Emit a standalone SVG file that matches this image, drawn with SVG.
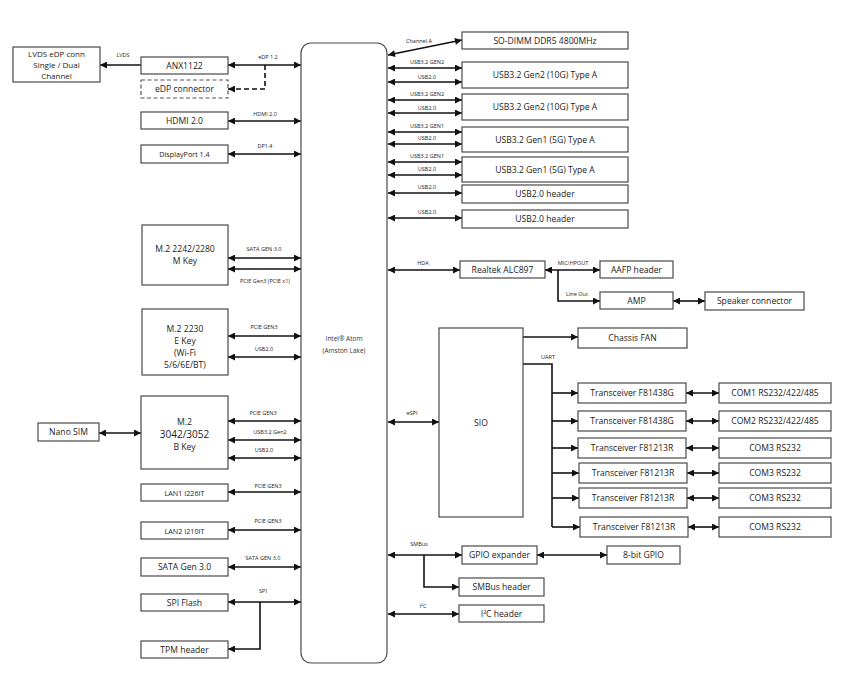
<svg xmlns="http://www.w3.org/2000/svg" width="850" height="680" viewBox="0 0 850 680">
<defs>
<style>
.b{fill:#fff;stroke:#4a4a4a;stroke-width:1.2}
.d{fill:#fff;stroke:#555;stroke-width:1.2;stroke-dasharray:4 2.5}
.t{font-family:"Open Sans","DejaVu Sans",sans-serif;font-size:8.6px;fill:#1a1a1a;text-anchor:middle}
.s{font-family:"Open Sans","DejaVu Sans",sans-serif;font-size:5.5px;fill:#222;text-anchor:middle}
.c{font-family:"Open Sans","DejaVu Sans",sans-serif;font-size:6.5px;fill:#333;text-anchor:middle}
.l{fill:none;stroke:#111;stroke-width:1.6}
.two{marker-start:url(#ah);marker-end:url(#ah)}
.one{marker-end:url(#ah)}
.dash{stroke-dasharray:5 3}
</style>
<marker id="ah" viewBox="0 0 10 10" refX="10" refY="5" markerWidth="8" markerHeight="7" markerUnits="userSpaceOnUse" orient="auto-start-reverse">
<path d="M0,0 L10,5 L0,10 z" fill="#111"/>
</marker>
</defs>
<rect width="850" height="680" fill="#fff"/>

<g id="connectors">
<line class="l one" x1="141" y1="65" x2="100" y2="65"/>
<line class="l two" x1="228" y1="65" x2="301" y2="65"/>
<path class="l one dash" d="M265,65 V89 H228"/>
<line class="l two" x1="228" y1="121" x2="301" y2="121"/>
<line class="l two" x1="228" y1="154" x2="301" y2="154"/>
<line class="l two" x1="228" y1="258" x2="301" y2="258"/>
<line class="l two" x1="228" y1="269" x2="301" y2="269"/>
<line class="l two" x1="228" y1="336" x2="301" y2="336"/>
<line class="l two" x1="228" y1="357" x2="301" y2="357"/>
<line class="l two" x1="99" y1="433" x2="141" y2="433"/>
<line class="l two" x1="228" y1="421" x2="301" y2="421"/>
<line class="l two" x1="228" y1="440" x2="301" y2="440"/>
<line class="l two" x1="228" y1="458" x2="301" y2="458"/>
<line class="l two" x1="228" y1="492" x2="301" y2="492"/>
<line class="l two" x1="228" y1="530" x2="301" y2="530"/>
<line class="l two" x1="228" y1="567" x2="301" y2="567"/>
<line class="l two" x1="228" y1="602" x2="301" y2="602"/>
<path class="l one" d="M260,602 V649 H228"/>

<line class="l two" x1="388" y1="55" x2="462" y2="40"/>
<line class="l two" x1="388" y1="68" x2="462" y2="68"/>
<line class="l two" x1="388" y1="82" x2="462" y2="82"/>
<line class="l two" x1="388" y1="100" x2="462" y2="100"/>
<line class="l two" x1="388" y1="113" x2="462" y2="113"/>
<line class="l two" x1="388" y1="132" x2="462" y2="132"/>
<line class="l two" x1="388" y1="144" x2="462" y2="144"/>
<line class="l two" x1="388" y1="162" x2="462" y2="162"/>
<line class="l two" x1="388" y1="175" x2="462" y2="175"/>
<line class="l two" x1="388" y1="193" x2="462" y2="193"/>
<line class="l two" x1="388" y1="218" x2="462" y2="218"/>
<line class="l two" x1="388" y1="270" x2="460" y2="270"/>
<line class="l two" x1="545" y1="270" x2="600" y2="270"/>
<path class="l one" d="M558,270 V301 H600"/>
<line class="l two" x1="673" y1="301" x2="705" y2="301"/>
<line class="l one" x1="523" y1="337" x2="578" y2="337"/>
<path class="l" d="M523,364 H552 V527"/>
<line class="l one" x1="552" y1="393" x2="578" y2="393"/>
<line class="l one" x1="552" y1="421" x2="578" y2="421"/>
<line class="l one" x1="552" y1="448" x2="578" y2="448"/>
<line class="l one" x1="552" y1="473" x2="579" y2="473"/>
<line class="l one" x1="552" y1="498" x2="579" y2="498"/>
<line class="l one" x1="552" y1="527" x2="580" y2="527"/>
<line class="l two" x1="686" y1="393" x2="719" y2="393"/>
<line class="l two" x1="686" y1="421" x2="719" y2="421"/>
<line class="l two" x1="686" y1="448" x2="719" y2="448"/>
<line class="l two" x1="687" y1="473" x2="719" y2="473"/>
<line class="l two" x1="687" y1="498" x2="719" y2="498"/>
<line class="l two" x1="688" y1="527" x2="719" y2="527"/>
<line class="l two" x1="388" y1="422" x2="439" y2="422"/>
<line class="l two" x1="388" y1="555" x2="462" y2="555"/>
<path class="l one" d="M424,555 V587 H459"/>
<line class="l two" x1="537" y1="555" x2="607" y2="555"/>
<line class="l two" x1="388" y1="614" x2="459" y2="614"/>

<text class="s" x="123" y="57">LVDS</text>
<text class="s" x="268" y="59">eDP 1.2</text>
<text class="s" x="265" y="116">HDMI 2.0</text>
<text class="s" x="265" y="148">DP1.4</text>
<text class="s" x="264" y="251">SATA GEN 3.0</text>
<text class="s" x="265" y="283">PCIE Gen3 (PCIE x1)</text>
<text class="s" x="264" y="329">PCIE GEN3</text>
<text class="s" x="264" y="351">USB2.0</text>
<text class="s" x="263" y="415">PCIE GEN3</text>
<text class="s" x="270" y="434">USB3.2 Gen2</text>
<text class="s" x="264" y="452">USB2.0</text>
<text class="s" x="268" y="488">PCIE GEN3</text>
<text class="s" x="268" y="523">PCIE GEN3</text>
<text class="s" x="263" y="560">SATA GEN 3.0</text>
<text class="s" x="263" y="593">SPI</text>

<text class="s" x="419" y="43">Channel A</text>
<text class="s" x="427" y="64">USB3.2 GEN2</text>
<text class="s" x="427" y="79">USB2.0</text>
<text class="s" x="427" y="96">USB3.2 GEN2</text>
<text class="s" x="427" y="110">USB2.0</text>
<text class="s" x="427" y="128">USB3.2 GEN1</text>
<text class="s" x="427" y="140">USB2.0</text>
<text class="s" x="427" y="158">USB3.2 GEN1</text>
<text class="s" x="427" y="171">USB2.0</text>
<text class="s" x="427" y="189">USB2.0</text>
<text class="s" x="427" y="214">USB2.0</text>
<text class="s" x="423" y="265">HDA</text>
<text class="s" x="573" y="265">MIC/HPOUT</text>
<text class="s" x="577" y="296">Line Out</text>
<text class="s" x="548" y="359">UART</text>
<text class="s" x="412" y="415">eSPI</text>
<text class="s" x="419" y="546">SMBus</text>
<text class="s" x="423" y="608">I²C</text>
</g>

<g id="cpu"><rect class="b" x="301" y="43" width="86" height="620" rx="10"/><text class="c" x="344" y="341">Intel® Atom</text><text class="c" x="344" y="353">(Amston Lake)</text></g>

<g id="lvds"><rect class="b" x="13" y="47" width="87" height="35"/><text class="t" x="56.5" y="57" style="font-size:8px">LVDS eDP conn</text><text class="t" x="56.5" y="68" style="font-size:8px">Single / Dual</text><text class="t" x="56.5" y="79" style="font-size:8px">Channel</text></g>
<g id="anx"><rect class="b" x="141" y="57" width="87" height="17"/><text class="t" x="184.5" y="68.5">ANX1122</text></g>
<g id="edp"><rect class="d" x="141" y="80" width="87" height="18"/><text class="t" x="184.5" y="92">eDP connector</text></g>
<g id="hdmi"><rect class="b" x="141" y="112" width="87" height="17"/><text class="t" x="184.5" y="123.5">HDMI 2.0</text></g>
<g id="dp"><rect class="b" x="141" y="145" width="87" height="18"/><text class="t" x="184.5" y="157" style="font-size:7.2px">DisplayPort 1.4</text></g>
<g id="m2m"><rect class="b" x="142" y="225" width="86" height="60"/><text class="t" x="185" y="252">M.2 2242/2280</text><text class="t" x="185" y="264">M Key</text></g>
<g id="m2e"><rect class="b" x="142" y="309" width="86" height="66"/><text class="t" x="185" y="332">M.2 2230</text><text class="t" x="185" y="344">E Key</text><text class="t" x="185" y="356">(Wi-Fi</text><text class="t" x="185" y="368">5/6/6E/BT)</text></g>
<g id="m2b"><rect class="b" x="141" y="396" width="87" height="73"/><text class="t" x="184.5" y="425">M.2</text><text class="t" x="184.5" y="438" style="font-size:10px">3042/3052</text><text class="t" x="184.5" y="450">B Key</text></g>
<g id="nanosim"><rect class="b" x="38" y="423" width="61" height="18"/><text class="t" x="68.5" y="435">Nano SIM</text></g>
<g id="lan1"><rect class="b" x="141" y="484" width="87" height="17"/><text class="t" x="184.5" y="495.5" style="font-size:7.2px">LAN1 I226IT</text></g>
<g id="lan2"><rect class="b" x="141" y="522" width="87" height="17"/><text class="t" x="184.5" y="533.5" style="font-size:7.2px">LAN2 I210IT</text></g>
<g id="sata"><rect class="b" x="141" y="558" width="87" height="18"/><text class="t" x="184.5" y="570">SATA Gen 3.0</text></g>
<g id="spiflash"><rect class="b" x="141" y="594" width="87" height="17"/><text class="t" x="184.5" y="605.5">SPI Flash</text></g>
<g id="tpm"><rect class="b" x="141" y="641" width="87" height="17"/><text class="t" x="184.5" y="652.5">TPM header</text></g>

<g id="sodimm"><rect class="b" x="462" y="32" width="166" height="17"/><text class="t" x="545" y="43.5">SO-DIMM DDR5 4800MHz</text></g>
<g id="usb1"><rect class="b" x="462" y="62" width="166" height="26"/><text class="t" x="545" y="78">USB3.2 Gen2 (10G) Type A</text></g>
<g id="usb2"><rect class="b" x="462" y="94" width="166" height="26"/><text class="t" x="545" y="110">USB3.2 Gen2 (10G) Type A</text></g>
<g id="usb3"><rect class="b" x="462" y="127" width="166" height="25"/><text class="t" x="545" y="142.5">USB3.2 Gen1 (5G) Type A</text></g>
<g id="usb4"><rect class="b" x="462" y="157" width="166" height="25"/><text class="t" x="545" y="172.5">USB3.2 Gen1 (5G) Type A</text></g>
<g id="usbh1"><rect class="b" x="462" y="185" width="166" height="18"/><text class="t" x="545" y="197">USB2.0 header</text></g>
<g id="usbh2"><rect class="b" x="462" y="210" width="166" height="18"/><text class="t" x="545" y="222">USB2.0 header</text></g>
<g id="realtek"><rect class="b" x="460" y="261" width="85" height="17"/><text class="t" x="502.5" y="272.5">Realtek ALC897</text></g>
<g id="aafp"><rect class="b" x="600" y="261" width="73" height="17"/><text class="t" x="636.5" y="272.5">AAFP header</text></g>
<g id="amp"><rect class="b" x="600" y="292" width="73" height="17"/><text class="t" x="636.5" y="303.5">AMP</text></g>
<g id="speaker"><rect class="b" x="705" y="292" width="99" height="18"/><text class="t" x="754.5" y="304">Speaker connector</text></g>
<g id="sio"><rect class="b" x="439" y="328" width="84" height="189"/><text class="t" x="481" y="426">SIO</text></g>
<g id="fan"><rect class="b" x="578" y="328" width="109" height="20"/><text class="t" x="632.5" y="341">Chassis FAN</text></g>
<g id="trx1"><rect class="b" x="578" y="383" width="108" height="20"/><text class="t" x="632" y="396">Transceiver F81438G</text></g>
<g id="trx2"><rect class="b" x="578" y="411" width="108" height="20"/><text class="t" x="632" y="424">Transceiver F81438G</text></g>
<g id="trx3"><rect class="b" x="578" y="438" width="108" height="20"/><text class="t" x="632" y="451">Transceiver F81213R</text></g>
<g id="trx4"><rect class="b" x="579" y="463" width="108" height="20"/><text class="t" x="633" y="476">Transceiver F81213R</text></g>
<g id="trx5"><rect class="b" x="579" y="488" width="108" height="20"/><text class="t" x="633" y="501">Transceiver F81213R</text></g>
<g id="trx6"><rect class="b" x="580" y="517" width="108" height="20"/><text class="t" x="634" y="530">Transceiver F81213R</text></g>
<g id="com1"><rect class="b" x="719" y="383" width="112" height="20"/><text class="t" x="775" y="396">COM1 RS232/422/485</text></g>
<g id="com2"><rect class="b" x="719" y="411" width="112" height="20"/><text class="t" x="775" y="424">COM2 RS232/422/485</text></g>
<g id="com3a"><rect class="b" x="719" y="438" width="112" height="20"/><text class="t" x="775" y="451">COM3 RS232</text></g>
<g id="com3b"><rect class="b" x="719" y="463" width="112" height="20"/><text class="t" x="775" y="476">COM3 RS232</text></g>
<g id="com3c"><rect class="b" x="719" y="488" width="112" height="20"/><text class="t" x="775" y="501">COM3 RS232</text></g>
<g id="com3d"><rect class="b" x="719" y="517" width="112" height="20"/><text class="t" x="775" y="530">COM3 RS232</text></g>
<g id="gpioexp"><rect class="b" x="462" y="546" width="75" height="18"/><text class="t" x="499.5" y="558">GPIO expander</text></g>
<g id="gpio8"><rect class="b" x="607" y="546" width="73" height="18"/><text class="t" x="643.5" y="558">8-bit GPIO</text></g>
<g id="smbush"><rect class="b" x="459" y="578" width="85" height="18"/><text class="t" x="501.5" y="590">SMBus header</text></g>
<g id="i2ch"><rect class="b" x="459" y="605" width="85" height="17"/><text class="t" x="501.5" y="616.5">I²C header</text></g>
</svg>
